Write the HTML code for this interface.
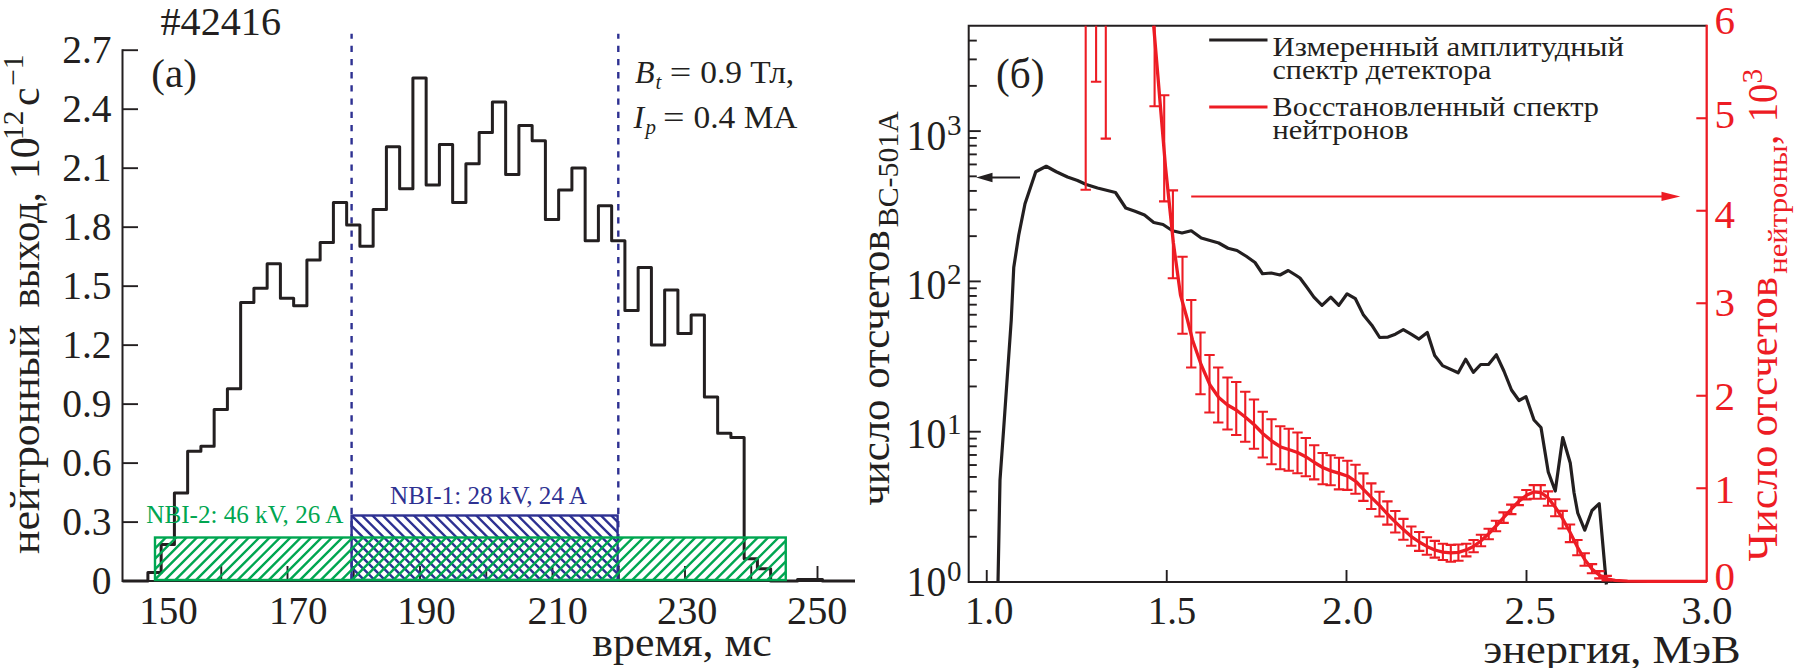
<!DOCTYPE html>
<html lang="ru">
<head>
<meta charset="utf-8">
<title>Figure</title>
<style>
html,body{margin:0;padding:0;background:#fff;}
body{width:1799px;height:668px;overflow:hidden;font-family:"Liberation Serif",serif;}
svg{display:block;}
text{font-family:"Liberation Serif",serif;}
</style>
</head>
<body>
<svg width="1799" height="668" viewBox="0 0 1799 668">
<rect x="0" y="0" width="1799" height="668" fill="#ffffff"/>
<path d="M351.6 580 V33.7" stroke="#2e3192" stroke-width="2.4" stroke-dasharray="6.3 6.9" fill="none"/>
<path d="M618.3 580 V33.7" stroke="#2e3192" stroke-width="2.4" stroke-dasharray="6.3 6.9" fill="none"/>
<path d="M122.5 49.2 V581.1 H855.0" stroke="#231f20" stroke-width="2" fill="none"/>
<path d="M122.5 522.11 H138" stroke="#231f20" stroke-width="1.9"/>
<path d="M122.5 463.12 H138" stroke="#231f20" stroke-width="1.9"/>
<path d="M122.5 404.13 H138" stroke="#231f20" stroke-width="1.9"/>
<path d="M122.5 345.14 H138" stroke="#231f20" stroke-width="1.9"/>
<path d="M122.5 286.16 H138" stroke="#231f20" stroke-width="1.9"/>
<path d="M122.5 227.17 H138" stroke="#231f20" stroke-width="1.9"/>
<path d="M122.5 168.18 H138" stroke="#231f20" stroke-width="1.9"/>
<path d="M122.5 109.19 H138" stroke="#231f20" stroke-width="1.9"/>
<path d="M122.5 50.20 H138" stroke="#231f20" stroke-width="1.9"/>
<path d="M221.25 581.1 V566" stroke="#231f20" stroke-width="1.9"/>
<path d="M287.50 581.1 V566" stroke="#231f20" stroke-width="1.9"/>
<path d="M353.75 581.1 V566" stroke="#231f20" stroke-width="1.9"/>
<path d="M420.00 581.1 V566" stroke="#231f20" stroke-width="1.9"/>
<path d="M486.25 581.1 V566" stroke="#231f20" stroke-width="1.9"/>
<path d="M552.50 581.1 V566" stroke="#231f20" stroke-width="1.9"/>
<path d="M618.75 581.1 V566" stroke="#231f20" stroke-width="1.9"/>
<path d="M685.00 581.1 V566" stroke="#231f20" stroke-width="1.9"/>
<path d="M751.25 581.1 V566" stroke="#231f20" stroke-width="1.9"/>
<path d="M817.50 581.1 V566" stroke="#231f20" stroke-width="1.9"/>
<path d="M122.5 581.1 H147.9 V572.5 H161.15 V544.5 H174.40 V493 H187.65 V451.25 H200.90 V446.25 H214.15 V409.5 H227.40 V388.75 H240.65 V302.5 H253.90 V288.25 H267.15 V263.75 H280.40 V298.25 H293.65 V305.75 H306.90 V260 H320.15 V242.5 H333.40 V202.5 H346.65 V225 H359.90 V246.25 H373.15 V209.5 H386.40 V146.75 H399.65 V188.75 H412.90 V78 H426.15 V185 H439.40 V144.5 H452.65 V202.5 H465.90 V163.75 H479.15 V132.5 H492.40 V102 H505.65 V174.5 H518.90 V125.5 H532.15 V140.75 H545.40 V219.5 H558.65 V190 H571.90 V168 H585.15 V240.75 H598.40 V205.75 H611.65 V240.75 H624.90 V310.5 H638.15 V267.5 H651.40 V345 H664.65 V290 H677.90 V333.5 H691.15 V315 H704.40 V397 H717.65 V433.25 H730.90 V437.5 H744.15 V558.75 H757.40 V568.75 H770.65 V581.1 H797.5 V579.4 H822.5 V581.1 H855.0" stroke="#231f20" stroke-width="3.0" fill="none" stroke-linejoin="round"/>
<clipPath id="cb"><rect x="351.6" y="515.5" width="266.0" height="64.5"/></clipPath>
<path clip-path="url(#cb)" d="M267.52 514.50 L334.02 581.00 M277.91 514.50 L344.41 581.00 M288.29 514.50 L354.79 581.00 M298.68 514.50 L365.18 581.00 M309.06 514.50 L375.56 581.00 M319.44 514.50 L385.94 581.00 M329.83 514.50 L396.33 581.00 M340.21 514.50 L406.71 581.00 M350.60 514.50 L417.10 581.00 M360.98 514.50 L427.48 581.00 M371.37 514.50 L437.87 581.00 M381.75 514.50 L448.25 581.00 M392.14 514.50 L458.64 581.00 M402.52 514.50 L469.02 581.00 M412.91 514.50 L479.41 581.00 M423.29 514.50 L489.79 581.00 M433.68 514.50 L500.18 581.00 M444.06 514.50 L510.56 581.00 M454.45 514.50 L520.95 581.00 M464.83 514.50 L531.33 581.00 M475.22 514.50 L541.72 581.00 M485.60 514.50 L552.11 581.00 M495.99 514.50 L562.49 581.00 M506.37 514.50 L572.88 581.00 M516.76 514.50 L583.26 581.00 M527.14 514.50 L593.64 581.00 M537.53 514.50 L604.03 581.00 M547.91 514.50 L614.41 581.00 M558.30 514.50 L624.80 581.00 M568.68 514.50 L635.18 581.00 M579.07 514.50 L645.57 581.00 M589.45 514.50 L655.95 581.00 M599.84 514.50 L666.34 581.00 M610.22 514.50 L676.72 581.00 M620.61 514.50 L687.11 581.00" stroke="#2e3192" stroke-width="2.45" fill="none"/>
<rect x="351.6" y="515.5" width="266.0" height="64.5" fill="none" stroke="#2e3192" stroke-width="2.4"/>
<clipPath id="cg"><rect x="155.0" y="537.5" width="630.75" height="42.5"/></clipPath>
<path clip-path="url(#cg)" d="M91.25 581.00 L135.75 536.50 M101.64 581.00 L146.14 536.50 M112.02 581.00 L156.52 536.50 M122.41 581.00 L166.91 536.50 M132.79 581.00 L177.29 536.50 M143.18 581.00 L187.68 536.50 M153.56 581.00 L198.06 536.50 M163.95 581.00 L208.45 536.50 M174.33 581.00 L218.83 536.50 M184.72 581.00 L229.22 536.50 M195.10 581.00 L239.60 536.50 M205.49 581.00 L249.99 536.50 M215.87 581.00 L260.37 536.50 M226.26 581.00 L270.76 536.50 M236.64 581.00 L281.14 536.50 M247.03 581.00 L291.53 536.50 M257.41 581.00 L301.91 536.50 M267.80 581.00 L312.30 536.50 M278.18 581.00 L322.68 536.50 M288.57 581.00 L333.07 536.50 M298.95 581.00 L343.45 536.50 M309.34 581.00 L353.84 536.50 M319.72 581.00 L364.22 536.50 M330.11 581.00 L374.61 536.50 M340.49 581.00 L384.99 536.50 M350.88 581.00 L395.38 536.50 M361.26 581.00 L405.76 536.50 M371.65 581.00 L416.15 536.50 M382.03 581.00 L426.53 536.50 M392.42 581.00 L436.92 536.50 M402.80 581.00 L447.30 536.50 M413.19 581.00 L457.69 536.50 M423.57 581.00 L468.07 536.50 M433.96 581.00 L478.46 536.50 M444.34 581.00 L488.84 536.50 M454.73 581.00 L499.23 536.50 M465.11 581.00 L509.61 536.50 M475.50 581.00 L520.00 536.50 M485.88 581.00 L530.38 536.50 M496.27 581.00 L540.77 536.50 M506.65 581.00 L551.15 536.50 M517.04 581.00 L561.54 536.50 M527.42 581.00 L571.92 536.50 M537.81 581.00 L582.31 536.50 M548.19 581.00 L592.69 536.50 M558.58 581.00 L603.08 536.50 M568.96 581.00 L613.46 536.50 M579.35 581.00 L623.85 536.50 M589.73 581.00 L634.23 536.50 M600.12 581.00 L644.62 536.50 M610.50 581.00 L655.00 536.50 M620.89 581.00 L665.39 536.50 M631.27 581.00 L675.77 536.50 M641.66 581.00 L686.16 536.50 M652.04 581.00 L696.54 536.50 M662.43 581.00 L706.93 536.50 M672.81 581.00 L717.31 536.50 M683.20 581.00 L727.70 536.50 M693.58 581.00 L738.08 536.50 M703.97 581.00 L748.47 536.50 M714.35 581.00 L758.85 536.50 M724.74 581.00 L769.24 536.50 M735.12 581.00 L779.62 536.50 M745.51 581.00 L790.01 536.50 M755.89 581.00 L800.39 536.50 M766.28 581.00 L810.78 536.50 M776.66 581.00 L821.16 536.50 M787.05 581.00 L831.55 536.50" stroke="#00a651" stroke-width="2.45" fill="none"/>
<rect x="155.0" y="537.5" width="630.75" height="42.5" fill="none" stroke="#00a651" stroke-width="2.4"/>
<g font-family='"Liberation Serif", serif'>
<text x="111.6" y="593.70" font-size="39.5" fill="#231f20" text-anchor="end">0</text>
<text x="111.6" y="534.71" font-size="39.5" fill="#231f20" text-anchor="end">0.3</text>
<text x="111.6" y="475.72" font-size="39.5" fill="#231f20" text-anchor="end">0.6</text>
<text x="111.6" y="416.73" font-size="39.5" fill="#231f20" text-anchor="end">0.9</text>
<text x="111.6" y="357.74" font-size="39.5" fill="#231f20" text-anchor="end">1.2</text>
<text x="111.6" y="298.76" font-size="39.5" fill="#231f20" text-anchor="end">1.5</text>
<text x="111.6" y="239.77" font-size="39.5" fill="#231f20" text-anchor="end">1.8</text>
<text x="111.6" y="180.78" font-size="39.5" fill="#231f20" text-anchor="end">2.1</text>
<text x="111.6" y="121.79" font-size="39.5" fill="#231f20" text-anchor="end">2.4</text>
<text x="111.6" y="62.80" font-size="39.5" fill="#231f20" text-anchor="end">2.7</text>
<text x="168.4" y="623.75" font-size="39" fill="#231f20" text-anchor="middle">150</text>
<text x="298.3" y="623.75" font-size="39" fill="#231f20" text-anchor="middle">170</text>
<text x="426.6" y="623.75" font-size="39" fill="#231f20" text-anchor="middle">190</text>
<text x="557.6" y="623.75" font-size="39" fill="#231f20" text-anchor="middle" textLength="60.4" lengthAdjust="spacingAndGlyphs">210</text>
<text x="687.2" y="623.75" font-size="39" fill="#231f20" text-anchor="middle" textLength="60.4" lengthAdjust="spacingAndGlyphs">230</text>
<text x="817.2" y="623.75" font-size="39" fill="#231f20" text-anchor="middle" textLength="60.4" lengthAdjust="spacingAndGlyphs">250</text>
<text x="160.5" y="35" font-size="39" fill="#231f20" textLength="120.5" lengthAdjust="spacingAndGlyphs">#42416</text>
<text x="151.3" y="86.75" font-size="39" fill="#231f20" textLength="45.5" lengthAdjust="spacingAndGlyphs">(a)</text>
<text x="592.3" y="656.4" font-size="40" fill="#231f20" textLength="179.5" lengthAdjust="spacingAndGlyphs">время, мс</text>
<text x="635" y="82.5" font-size="32" fill="#231f20" font-style="italic">B</text>
<text x="655.5" y="88.5" font-size="21" fill="#231f20" font-style="italic">t</text>
<text x="669.7" y="82.5" font-size="32" fill="#231f20" textLength="21.5" lengthAdjust="spacingAndGlyphs">=</text>
<text x="700.2" y="82.5" font-size="32" fill="#231f20" textLength="94" lengthAdjust="spacingAndGlyphs">0.9 Тл,</text>
<text x="633.5" y="127.7" font-size="32" fill="#231f20" font-style="italic">I</text>
<text x="645.5" y="133.5" font-size="21" fill="#231f20" font-style="italic">p</text>
<text x="663.1" y="127.7" font-size="32" fill="#231f20" textLength="21.5" lengthAdjust="spacingAndGlyphs">=</text>
<text x="693.5" y="127.7" font-size="32" fill="#231f20" textLength="104" lengthAdjust="spacingAndGlyphs">0.4 МА</text>
<text x="146.3" y="522.5" font-size="26" fill="#00a651" textLength="197" lengthAdjust="spacingAndGlyphs">NBI-2: 46 kV, 26 A</text>
<text x="390" y="503.75" font-size="26" fill="#2e3192" textLength="197" lengthAdjust="spacingAndGlyphs">NBI-1: 28 kV, 24 A</text>
<g transform="translate(38.5 554) rotate(-90)">
<text x="0" y="0" font-size="42" fill="#231f20" textLength="229.5" lengthAdjust="spacingAndGlyphs">нейтронный</text>
<text x="246.5" y="0" font-size="42" fill="#231f20" textLength="115.5" lengthAdjust="spacingAndGlyphs">выход,</text>
<text x="374.8" y="0" font-size="42" fill="#231f20">10</text>
<text x="414.0" y="-16" font-size="29.5" fill="#231f20">12</text>
<text x="448" y="0" font-size="42" fill="#231f20">с</text>
<text x="468.2" y="-16" font-size="29.5" fill="#231f20">−1</text>
</g>
<clipPath id="cr"><rect x="968.7" y="25.75" width="741.0" height="559.25"/></clipPath>
<path d="M1706.7 25.75 H968.7 V582.0 H1706.7" stroke="#231f20" stroke-width="2" fill="none"/>
<path d="M968.7 536.76 H976.8" stroke="#231f20" stroke-width="1.9"/>
<path d="M968.7 510.29 H976.8" stroke="#231f20" stroke-width="1.9"/>
<path d="M968.7 491.51 H976.8" stroke="#231f20" stroke-width="1.9"/>
<path d="M968.7 476.94 H976.8" stroke="#231f20" stroke-width="1.9"/>
<path d="M968.7 465.04 H976.8" stroke="#231f20" stroke-width="1.9"/>
<path d="M968.7 454.98 H976.8" stroke="#231f20" stroke-width="1.9"/>
<path d="M968.7 446.27 H976.8" stroke="#231f20" stroke-width="1.9"/>
<path d="M968.7 438.58 H976.8" stroke="#231f20" stroke-width="1.9"/>
<path d="M968.7 431.70 H980.8" stroke="#231f20" stroke-width="1.9"/>
<path d="M968.7 386.46 H976.8" stroke="#231f20" stroke-width="1.9"/>
<path d="M968.7 359.99 H976.8" stroke="#231f20" stroke-width="1.9"/>
<path d="M968.7 341.21 H976.8" stroke="#231f20" stroke-width="1.9"/>
<path d="M968.7 326.64 H976.8" stroke="#231f20" stroke-width="1.9"/>
<path d="M968.7 314.74 H976.8" stroke="#231f20" stroke-width="1.9"/>
<path d="M968.7 304.68 H976.8" stroke="#231f20" stroke-width="1.9"/>
<path d="M968.7 295.97 H976.8" stroke="#231f20" stroke-width="1.9"/>
<path d="M968.7 288.28 H976.8" stroke="#231f20" stroke-width="1.9"/>
<path d="M968.7 281.40 H980.8" stroke="#231f20" stroke-width="1.9"/>
<path d="M968.7 236.16 H976.8" stroke="#231f20" stroke-width="1.9"/>
<path d="M968.7 209.69 H976.8" stroke="#231f20" stroke-width="1.9"/>
<path d="M968.7 190.91 H976.8" stroke="#231f20" stroke-width="1.9"/>
<path d="M968.7 176.34 H976.8" stroke="#231f20" stroke-width="1.9"/>
<path d="M968.7 164.44 H976.8" stroke="#231f20" stroke-width="1.9"/>
<path d="M968.7 154.38 H976.8" stroke="#231f20" stroke-width="1.9"/>
<path d="M968.7 145.67 H976.8" stroke="#231f20" stroke-width="1.9"/>
<path d="M968.7 137.98 H976.8" stroke="#231f20" stroke-width="1.9"/>
<path d="M968.7 131.10 H980.8" stroke="#231f20" stroke-width="1.9"/>
<path d="M968.7 85.86 H976.8" stroke="#231f20" stroke-width="1.9"/>
<path d="M968.7 59.39 H976.8" stroke="#231f20" stroke-width="1.9"/>
<path d="M968.7 40.61 H976.8" stroke="#231f20" stroke-width="1.9"/>
<path d="M986.75 582.0 V570" stroke="#231f20" stroke-width="1.9"/>
<path d="M1166.75 582.0 V570" stroke="#231f20" stroke-width="1.9"/>
<path d="M1346.5 582.0 V570" stroke="#231f20" stroke-width="1.9"/>
<path d="M1526.5 582.0 V570" stroke="#231f20" stroke-width="1.9"/>
<path d="M998 583 L1000 480 L1003.75 427.5 L1011.25 320 L1013.75 267.5 L1018.75 235 L1025 203.75 L1035.75 171.75 L1046.25 166.25 L1056.25 171.75 L1067.5 177 L1077.5 180.5 L1086.25 184.5 L1097.5 188 L1115.5 192.5 L1125.75 208 L1135 211.25 L1144.5 215 L1153.75 222.5 L1163 224.5 L1172.5 230.75 L1182 233 L1191.25 230.75 L1201.25 238 L1210 240.5 L1218.75 243 L1228 248.25 L1237 250.5 L1246.25 256.25 L1255 262.5 L1262.5 273.75 L1271.25 273 L1280 275 L1288.25 270.5 L1296.25 275.5 L1300 278 L1306.7 287 L1313.9 297.1 L1322 305.4 L1330.75 297.1 L1338.8 305.4 L1347.1 293.8 L1355.4 298.7 L1363.5 315.1 L1371.8 325.2 L1379.7 337.5 L1388 337.1 L1395.4 334.2 L1403.3 329.7 L1411.1 334.2 L1419 339.1 L1427.3 332.4 L1434.7 355.5 L1442.5 365.6 L1458.2 372.8 L1465.7 359.3 L1473.3 372.3 L1480.7 364.5 L1488.5 364.5 L1496.4 354.8 L1504 371.25 L1511.5 390 L1519 400.5 L1526 396.75 L1534 420 L1541 427.5 L1548.25 472 L1555.25 491 L1562.75 437.5 L1570.25 463 L1574 492.5 L1577.75 513 L1584.75 530.2 L1592 510.5 L1599.2 503.7 L1606.4 584.5" stroke="#231f20" stroke-width="3.2" fill="none" stroke-linejoin="round" stroke-linecap="butt"/>
<path d="M1020 177.5 H990" stroke="#231f20" stroke-width="2"/>
<path d="M976.2 177.5 L992.5 172.8 L992.5 182.2 Z" fill="#231f20"/>
<path d="M1706.7 24.75 V582.0" stroke="#ed1c24" stroke-width="2.3" fill="none"/>
<path d="M1706.7 488.25 H1696.3" stroke="#ed1c24" stroke-width="2.1"/>
<path d="M1706.7 395.75 H1696.3" stroke="#ed1c24" stroke-width="2.1"/>
<path d="M1706.7 303.25 H1696.3" stroke="#ed1c24" stroke-width="2.1"/>
<path d="M1706.7 210.75 H1696.3" stroke="#ed1c24" stroke-width="2.1"/>
<path d="M1706.7 118.25 H1696.3" stroke="#ed1c24" stroke-width="2.1"/>
<g clip-path="url(#cr)">
<path d="M1153.2 20 L1165.5 167 L1173.4 243 L1180.5 295 L1187.5 320 L1192.5 340 L1201.25 365 L1210 385 L1218.75 397.5 L1227.5 405 L1236.25 410 L1245.75 417.5 L1254.5 425 L1263 433.75 L1272 441.25 L1280.75 447 L1288.75 449.5 L1297.5 452.5 L1306.25 457 L1314.4 462.5 L1322.7 467.5 L1331 470.9 L1339.5 473.4 L1347.9 476.2 L1356.2 481.75 L1363.4 489.4 L1371.8 497.8 L1380.2 506.2 L1387.8 514.5 L1395.7 522.4 L1403.4 529.6 L1411.3 536.6 L1419.2 542 L1426.9 546.4 L1434.8 550 L1442.9 552.1 L1450.8 552.8 L1458.4 552.4 L1466.3 549.9 L1473.8 546.2 L1481 540.7 L1488.7 533.8 L1496 526 L1503.6 517.6 L1511.3 509.2 L1518.7 501.5 L1526.4 495.2 L1533.8 491.9 L1540.7 492.5 L1548 497.7 L1555.3 507.2 L1562.7 518.7 L1570 532.3 L1577.4 547 L1584.7 559.5 L1592 569 L1599.4 575.3 L1606.7 578.8 L1615.1 580.4 L1627.6 581.2 L1650 581.4 L1706.7 581.4" stroke="#ed1c24" stroke-width="3.3" fill="none" stroke-linejoin="round"/>
<path d="M1085.7 0 V189.7 M1080.5 189.7 H1090.9 M1096.1 0 V81.8 M1090.8999999999999 81.8 H1101.3 M1105.8 0 V138.6 M1100.6 138.6 H1111.0 M1154.6 0 V106.2 M1149.3999999999999 106.2 H1159.8 M1164.2 95.2 V201.4 M1159.0 95.2 H1169.4 M1159.0 201.4 H1169.4 M1172.9 190.4 V278.3 M1167.7 190.4 H1178.1000000000001 M1167.7 278.3 H1178.1000000000001 M1182.5 256.8 V333.75 M1177.3 256.8 H1187.7 M1177.3 333.75 H1187.7 M1191.25 300 V367.5 M1186.05 300 H1196.45 M1186.05 367.5 H1196.45 M1200.5 332.5 V394.25 M1195.3 332.5 H1205.7 M1195.3 394.25 H1205.7 M1209.5 355 V412.5 M1204.3 355 H1214.7 M1204.3 412.5 H1214.7 M1218.25 367.5 V422.5 M1213.05 367.5 H1223.45 M1213.05 422.5 H1223.45 M1227.5 377.5 V429.5 M1222.3 377.5 H1232.7 M1222.3 429.5 H1232.7 M1236.25 382 V435 M1231.05 382 H1241.45 M1231.05 435 H1241.45 M1245.25 391.75 V441.75 M1240.05 391.75 H1250.45 M1240.05 441.75 H1250.45 M1254 399.5 V448.75 M1248.8 399.5 H1259.2 M1248.8 448.75 H1259.2 M1262.75 411.75 V457.5 M1257.55 411.75 H1267.95 M1257.55 457.5 H1267.95 M1271.5 419.25 V464.25 M1266.3 419.25 H1276.7 M1266.3 464.25 H1276.7 M1280.25 426.25 V469.25 M1275.05 426.25 H1285.45 M1275.05 469.25 H1285.45 M1288.75 428.75 V470.75 M1283.55 428.75 H1293.95 M1283.55 470.75 H1293.95 M1297.5 432.5 V473.25 M1292.3 432.5 H1302.7 M1292.3 473.25 H1302.7 M1305.8 438 V476.3 M1300.6 438 H1311.0 M1300.6 476.3 H1311.0 M1314.2 445.2 V479.4 M1309.0 445.2 H1319.4 M1309.0 479.4 H1319.4 M1322.7 453 V484.2 M1317.5 453 H1327.9 M1317.5 484.2 H1327.9 M1330.6 455.2 V485.3 M1325.3999999999999 455.2 H1335.8 M1325.3999999999999 485.3 H1335.8 M1339 457.8 V489.4 M1333.8 457.8 H1344.2 M1333.8 489.4 H1344.2 M1347.4 460.7 V489.9 M1342.2 460.7 H1352.6000000000001 M1342.2 489.9 H1352.6000000000001 M1355.5 464.8 V493.7 M1350.3 464.8 H1360.7 M1350.3 493.7 H1360.7 M1363.4 473.4 V500.9 M1358.2 473.4 H1368.6000000000001 M1358.2 500.9 H1368.6000000000001 M1371.3 483.4 V509 M1366.1 483.4 H1376.5 M1366.1 509 H1376.5 M1379.5 491.8 V516.5 M1374.3 491.8 H1384.7 M1374.3 516.5 H1384.7 M1387.4 501.4 V524.6 M1382.2 501.4 H1392.6000000000001 M1382.2 524.6 H1392.6000000000001 M1395.3 511 V532.5 M1390.1 511 H1400.5 M1390.1 532.5 H1400.5 M1403.4 518.9 V539.7 M1398.2 518.9 H1408.6000000000001 M1398.2 539.7 H1408.6000000000001 M1411.3 526.5 V545.7 M1406.1 526.5 H1416.5 M1406.1 545.7 H1416.5 M1419.2 532 V550.9 M1414.0 532 H1424.4 M1414.0 550.9 H1424.4 M1426.9 537.3 V554.8 M1421.7 537.3 H1432.1000000000001 M1421.7 554.8 H1432.1000000000001 M1434.8 540.9 V557.6 M1429.6 540.9 H1440.0 M1429.6 557.6 H1440.0 M1442.9 543.7 V560 M1437.7 543.7 H1448.1000000000001 M1437.7 560 H1448.1000000000001 M1450.8 544.9 V561.7 M1445.6 544.9 H1456.0 M1445.6 561.7 H1456.0 M1458.4 544.5 V560.7 M1453.2 544.5 H1463.6000000000001 M1453.2 560.7 H1463.6000000000001 M1466.3 543.8 V556.4 M1461.1 543.8 H1471.5 M1461.1 556.4 H1471.5 M1473.6 540 V552.2 M1468.3999999999999 540 H1478.8 M1468.3999999999999 552.2 H1478.8 M1481 534.8 V546.3 M1475.8 534.8 H1486.2 M1475.8 546.3 H1486.2 M1488.7 528.7 V539.2 M1483.5 528.7 H1493.9 M1483.5 539.2 H1493.9 M1496 520.8 V531.2 M1490.8 520.8 H1501.2 M1490.8 531.2 H1501.2 M1503.6 512.4 V522.9 M1498.3999999999999 512.4 H1508.8 M1498.3999999999999 522.9 H1508.8 M1511.3 504.6 V514.1 M1506.1 504.6 H1516.5 M1506.1 514.1 H1516.5 M1518.7 497.3 V505.1 M1513.5 497.3 H1523.9 M1513.5 505.1 H1523.9 M1526.4 490 V499.4 M1521.2 490 H1531.6000000000001 M1521.2 499.4 H1531.6000000000001 M1533.8 485.1 V498.8 M1528.6 485.1 H1539.0 M1528.6 498.8 H1539.0 M1540.7 485.1 V498.8 M1535.5 485.1 H1545.9 M1535.5 498.8 H1545.9 M1548 491.4 V505.7 M1542.8 491.4 H1553.2 M1542.8 505.7 H1553.2 M1555.3 499.2 V516.2 M1550.1 499.2 H1560.5 M1550.1 516.2 H1560.5 M1562.7 510.9 V528.5 M1557.5 510.9 H1567.9 M1557.5 528.5 H1567.9 M1570 524.5 V542.1 M1564.8 524.5 H1575.2 M1564.8 542.1 H1575.2 M1577.4 540 V555.3 M1572.2 540 H1582.6000000000001 M1572.2 555.3 H1582.6000000000001 M1584.7 553.2 V565.8 M1579.5 553.2 H1589.9 M1579.5 565.8 H1589.9 M1592 564.1 V573.2 M1586.8 564.1 H1597.2 M1586.8 573.2 H1597.2 M1599.4 571.1 V578.4 M1594.2 571.1 H1604.6000000000001 M1594.2 578.4 H1604.6000000000001 M1606.7 575.9 V580.5 M1601.5 575.9 H1611.9 M1601.5 580.5 H1611.9" stroke="#ed1c24" stroke-width="2.1" fill="none"/>
</g>
<path d="M1191.2 196.4 H1664" stroke="#ed1c24" stroke-width="2"/>
<path d="M1680.3 196.4 L1661.5 191.8 L1661.5 201 Z" fill="#ed1c24"/>
<path d="M1209.2 40 H1267.5" stroke="#231f20" stroke-width="3"/>
<path d="M1209.2 107 H1267.5" stroke="#ed1c24" stroke-width="3"/>
<text x="1272.5" y="55.5" font-size="27" fill="#231f20" textLength="351.5" lengthAdjust="spacingAndGlyphs">Измеренный амплитудный</text>
<text x="1272.5" y="78.75" font-size="27" fill="#231f20" textLength="219" lengthAdjust="spacingAndGlyphs">спектр детектора</text>
<text x="1272.5" y="116.25" font-size="27" fill="#231f20" textLength="326.5" lengthAdjust="spacingAndGlyphs">Восстановленный спектр</text>
<text x="1272.5" y="138.75" font-size="27" fill="#231f20" textLength="136" lengthAdjust="spacingAndGlyphs">нейтронов</text>
<text x="996" y="87.5" font-size="42" fill="#231f20" textLength="48.5" lengthAdjust="spacingAndGlyphs">(б)</text>
<text x="906.6" y="149.7" font-size="42" fill="#231f20" textLength="39.6" lengthAdjust="spacingAndGlyphs">10</text>
<text x="947" y="135.1" font-size="29" fill="#231f20">3</text>
<text x="906.6" y="298.75" font-size="42" fill="#231f20" textLength="39.6" lengthAdjust="spacingAndGlyphs">10</text>
<text x="947" y="284.15" font-size="29" fill="#231f20">2</text>
<text x="906.6" y="448.25" font-size="42" fill="#231f20" textLength="39.6" lengthAdjust="spacingAndGlyphs">10</text>
<text x="947" y="433.65" font-size="29" fill="#231f20">1</text>
<text x="906.6" y="595.5" font-size="42" fill="#231f20" textLength="39.6" lengthAdjust="spacingAndGlyphs">10</text>
<text x="947" y="580.9" font-size="29" fill="#231f20">0</text>
<text x="989.2" y="623.75" font-size="41" fill="#231f20" text-anchor="middle" textLength="48.6" lengthAdjust="spacingAndGlyphs">1.0</text>
<text x="1172" y="623.75" font-size="41" fill="#231f20" text-anchor="middle" textLength="48.6" lengthAdjust="spacingAndGlyphs">1.5</text>
<text x="1347.6" y="623.75" font-size="41" fill="#231f20" text-anchor="middle">2.0</text>
<text x="1530" y="623.75" font-size="41" fill="#231f20" text-anchor="middle">2.5</text>
<text x="1706.8" y="623.75" font-size="41" fill="#231f20" text-anchor="middle">3.0</text>
<text x="1483.2" y="662.8" font-size="40" fill="#231f20" textLength="257.5" lengthAdjust="spacingAndGlyphs">энергия, МэВ</text>
<text x="1714.5" y="33.75" font-size="41" fill="#ed1c24">6</text>
<text x="1714.5" y="128.25" font-size="41" fill="#ed1c24">5</text>
<text x="1714.5" y="227.5" font-size="41" fill="#ed1c24">4</text>
<text x="1714.5" y="316.25" font-size="41" fill="#ed1c24">3</text>
<text x="1714.5" y="410" font-size="41" fill="#ed1c24">2</text>
<text x="1714.5" y="503" font-size="41" fill="#ed1c24">1</text>
<text x="1714.5" y="590" font-size="41" fill="#ed1c24">0</text>
<g transform="translate(889.3 505.8) rotate(-90)">
<text x="0" y="0" font-size="42" fill="#231f20" textLength="275.5" lengthAdjust="spacingAndGlyphs">число отсчетов</text>
<text x="278.6" y="9.1" font-size="30" fill="#231f20" textLength="116" lengthAdjust="spacingAndGlyphs">BC-501A</text>
</g>
<g transform="translate(1777 561.6) rotate(-90)">
<text x="0" y="0" font-size="42" fill="#ed1c24" textLength="116" lengthAdjust="spacingAndGlyphs">Число</text>
<text x="125.2" y="0" font-size="42" fill="#ed1c24" textLength="159.5" lengthAdjust="spacingAndGlyphs">отсчетов</text>
<text x="287.8" y="10.2" font-size="28" fill="#ed1c24" textLength="128.5" lengthAdjust="spacingAndGlyphs">нейтроны</text>
<text x="416.6" y="0" font-size="42" fill="#ed1c24">,</text>
<text x="439.4" y="0" font-size="42" fill="#ed1c24" textLength="38.6" lengthAdjust="spacingAndGlyphs">10</text>
<text x="478.0" y="-15" font-size="29.5" fill="#ed1c24">3</text>
</g>
</g>
</svg>
</body>
</html>
